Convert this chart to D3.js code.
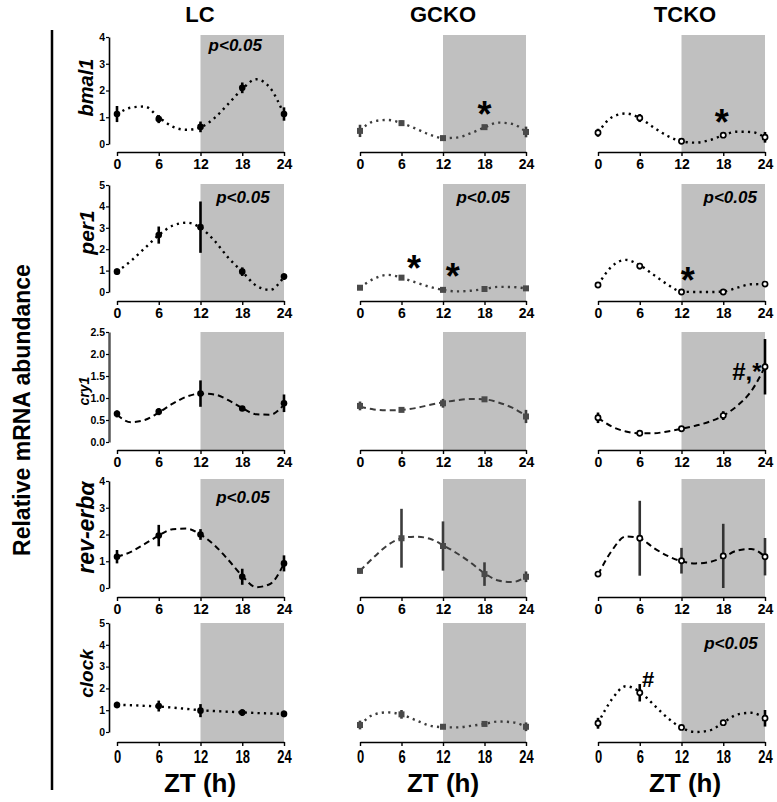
<!DOCTYPE html>
<html><head><meta charset="utf-8">
<script src="https://cdn.jsdelivr.net/npm/d3@7"></script>
<style>
body{margin:0;background:#fff}
svg{display:block}
text{font-family:"Liberation Sans",Arial,Helvetica,sans-serif}
</style>
</head><body>
<svg id="chart" width="777" height="802"></svg>
<script>
// ---------- data ----------
const groups = ["LC", "GCKO", "TCKO"];
const genes = ["bmal1", "per1", "cry1", "rev-erbα", "clock"];
const sampleZT = [0, 6, 12, 18, 24];
const xTickValues = [0, 6, 12, 18, 24];
const fitZT = [0, 2, 4, 6, 8, 10, 12, 14, 16, 18, 20, 22, 24];
const yMaxes = [4, 5, 2.5, 4, 5];
const yTickSteps = [1, 1, 0.5, 1, 1];
const lineKinds = ["dotted", "dotted", "dashed", "dashed", "dotted"];
const darkPhase = [12, 24];

const meanLC = [
  [1.12, 0.93, 0.64, 2.10, 1.12],
  [0.95, 2.66, 3.03, 0.95, 0.72],
  [0.64, 0.69, 1.10, 0.76, 0.88],
  [1.17, 1.96, 2.00, 0.42, 0.92],
  [1.24, 1.19, 0.98, 0.89, 0.83]
];
const errLC = [
  [0.30, 0.15, 0.20, 0.20, 0.25],
  [0.15, 0.40, 1.20, 0.20, 0.15],
  [0.08, 0.08, 0.30, 0.04, 0.20],
  [0.25, 0.40, 0.20, 0.30, 0.30],
  [0.15, 0.25, 0.30, 0.15, 0.15]
];
const meanGCKO = [
  [0.49, 0.78, 0.22, 0.63, 0.45],
  [0.20, 0.67, 0.10, 0.14, 0.17],
  [0.82, 0.73, 0.88, 0.97, 0.58],
  [0.64, 1.86, 1.57, 0.52, 0.42],
  [0.32, 0.81, 0.24, 0.37, 0.24]
];
const errGCKO = [
  [0.23, 0.10, 0.04, 0.04, 0.20],
  [0.03, 0.05, 0.03, 0.03, 0.03],
  [0.10, 0.03, 0.10, 0.05, 0.15],
  [0.10, 1.10, 0.92, 0.44, 0.20],
  [0.20, 0.20, 0.05, 0.05, 0.20]
];
const meanTCKO = [
  [0.42, 0.97, 0.10, 0.33, 0.25],
  [0.33, 1.21, 0.00, 0.00, 0.37],
  [0.55, 0.20, 0.30, 0.60, 1.71],
  [0.52, 1.86, 1.02, 1.20, 1.17],
  [0.40, 1.80, 0.21, 0.43, 0.63]
];
const errTCKO = [
  [0.15, 0.15, 0.03, 0.10, 0.20],
  [0.08, 0.15, 0.03, 0.03, 0.05],
  [0.12, 0.05, 0.03, 0.10, 0.63],
  [0.10, 1.40, 0.48, 1.20, 0.70],
  [0.25, 0.40, 0.05, 0.05, 0.38]
];

// fitted curves, read at fitZT
const fitLC = [
  [1.10, 1.36, 1.40, 1.00, 0.65, 0.53, 0.62, 0.97, 1.50, 2.05, 2.42, 2.10, 1.10],
  [0.95, 1.45, 2.05, 2.66, 3.10, 3.24, 3.00, 2.40, 1.60, 0.95, 0.30, 0.10, 0.72],
  [0.62, 0.45, 0.50, 0.67, 0.87, 1.03, 1.10, 1.08, 0.95, 0.77, 0.63, 0.62, 0.85],
  [1.17, 1.35, 1.65, 1.96, 2.20, 2.22, 2.00, 1.60, 1.05, 0.45, 0.03, 0.15, 0.92],
  [1.25, 1.23, 1.20, 1.17, 1.12, 1.06, 1.00, 0.96, 0.93, 0.90, 0.87, 0.85, 0.83]
];
const fitGCKO = [
  [0.50, 0.85, 0.90, 0.78, 0.58, 0.36, 0.22, 0.24, 0.40, 0.62, 0.80, 0.75, 0.45],
  [0.20, 0.62, 0.80, 0.67, 0.45, 0.25, 0.10, 0.03, 0.06, 0.14, 0.24, 0.23, 0.17],
  [0.80, 0.74, 0.72, 0.73, 0.77, 0.84, 0.90, 0.95, 0.98, 0.97, 0.90, 0.78, 0.60],
  [0.64, 1.15, 1.60, 1.86, 1.92, 1.85, 1.60, 1.30, 0.95, 0.55, 0.28, 0.22, 0.42],
  [0.32, 0.80, 0.90, 0.80, 0.55, 0.30, 0.22, 0.21, 0.28, 0.37, 0.48, 0.45, 0.24]
];
const fitTCKO = [
  [0.42, 1.00, 1.14, 0.97, 0.62, 0.30, 0.10, 0.05, 0.14, 0.33, 0.46, 0.45, 0.25],
  [0.33, 1.20, 1.50, 1.25, 0.80, 0.35, 0.02, 0.00, 0.00, 0.02, 0.20, 0.36, 0.37],
  [0.55, 0.35, 0.24, 0.20, 0.20, 0.24, 0.30, 0.37, 0.46, 0.60, 0.82, 1.15, 1.71],
  [0.50, 1.40, 1.93, 1.86, 1.50, 1.20, 1.00, 0.92, 0.97, 1.15, 1.40, 1.46, 1.17],
  [0.40, 1.50, 2.10, 1.85, 1.25, 0.65, 0.20, 0.00, 0.07, 0.43, 0.80, 0.88, 0.63]
];

// significance notes: [row, col, zt, value, text]
const pNotes = [
  [0, 0, 17.0, 3.70, "p<0.05"],
  [1, 0, 18.1, 4.44, "p<0.05"],
  [1, 1, 17.8, 4.44, "p<0.05"],
  [1, 2, 19.0, 4.44, "p<0.05"],
  [3, 0, 18.1, 3.40, "p<0.05"],
  [4, 2, 19.1, 4.08, "p<0.05"]
];
const markNotes = [
  [0, 1, 18.0, 1.23, "*", "middle"],
  [0, 2, 17.8, 0.93, "*", "middle"],
  [1, 1, 7.8, 1.26, "*", "middle"],
  [1, 1, 13.4, 0.89, "*", "middle"],
  [1, 2, 12.9, 0.70, "*", "middle"],
  [2, 2, 23.5, 1.61, "#,*", "end"],
  [4, 2, 7.2, 2.43, "#", "middle"]
];

// ---------- layout ----------
const svg = d3.select("#chart");
const colX = [[117, 284], [360, 526], [598, 765]];
const colYAxisX = 109;
const rowLayout = [ // [yTopPx, yZeroPx, xAxisPx, grayTopPx]
  [37, 144, 152, 35],
  [185, 292, 301, 184],
  [332, 442, 450, 332],
  [481, 588, 597, 479],
  [623, 732, 742, 623]
];
const groupColor = ["#000", "#3c3c3c", "#000"];
const grayFill = "#c0c0c0";

const titleX = [200, 443, 685];
groups.forEach((g, i) => {
  svg.append("text").attr("x", titleX[i]).attr("y", 22).attr("text-anchor", "middle")
    .style("font-weight", "bold").style("font-size", "22px").text(g);
  svg.append("text").attr("x", titleX[i]).attr("y", 792).attr("text-anchor", "middle")
    .style("font-weight", "bold").style("font-size", "26px").text("ZT (h)");
});

svg.append("line").attr("x1", 52).attr("x2", 52).attr("y1", 30).attr("y2", 790)
  .attr("stroke", "#000").attr("stroke-width", 2.5);
svg.append("text").attr("transform", "translate(30,410) rotate(-90)")
  .attr("text-anchor", "middle").style("font-weight", "bold").style("font-size", "23px")
  .text("Relative mRNA abundance");

const geneLabelSize = [20, 21, 14, 23, 19];
const geneLabelX = [93, 94, 89, 94, 93];
const geneLabelShift = [-3, -6, 4, -7, -4];

const means = [meanLC, meanGCKO, meanTCKO];
const errs = [errLC, errGCKO, errTCKO];
const fits = [fitLC, fitGCKO, fitTCKO];

genes.forEach((gene, r) => {
  const [yTop, yZero, axisY, grayTop] = rowLayout[r];
  const y = d3.scaleLinear().domain([0, yMaxes[r]]).range([yZero, yTop]);
  const yTicks = d3.range(0, yMaxes[r] + 1e-9, yTickSteps[r]);

  // gene label
  svg.append("text")
    .attr("transform", `translate(${geneLabelX[r]},${(yTop + yZero) / 2 + geneLabelShift[r]}) rotate(-90)`)
    .attr("text-anchor", "middle")
    .style("font-weight", "bold").style("font-style", "italic")
    .style("font-size", geneLabelSize[r] + "px").text(gene);

  groups.forEach((g, c) => {
    const x = d3.scaleLinear().domain([0, 24]).range(colX[c]);
    const panel = svg.append("g");
    const col = groupColor[c];

    // dark phase
    panel.append("rect").attr("x", x(darkPhase[0])).attr("width", x(darkPhase[1]) - x(darkPhase[0]))
      .attr("y", grayTop).attr("height", axisY - grayTop).attr("fill", grayFill);

    // x axis
    const xa = panel.append("g").attr("transform", `translate(0,${axisY})`)
      .call(d3.axisBottom(x).tickValues(xTickValues).tickSize(4).tickSizeOuter(0).tickPadding(r === 4 ? 4 : 3));
    xa.select(".domain").attr("stroke", "#000").attr("stroke-width", 1.6);
    xa.selectAll(".tick line").attr("stroke", "#000").attr("stroke-width", 1.4);
    const tt = xa.selectAll(".tick text").attr("fill", "#000")
      .style("font-weight", "bold").style("font-size", r === 4 ? "18px" : "14px");
    if (r === 4) tt.attr("transform", "scale(0.72,1)");

    // y axis (LC only)
    if (c === 0) {
      const ya = panel.append("g").attr("transform", `translate(${colYAxisX},0)`)
        .call(d3.axisLeft(y).tickValues(yTicks).tickSize(3).tickSizeOuter(0).tickPadding(1)
          .tickFormat(yTickSteps[r] < 1 ? d3.format(".1f") : d3.format("d")));
      ya.select(".domain").attr("stroke", r === 2 ? "#555" : "#000").attr("stroke-width", r === 2 ? 2.5 : 1.6);
      ya.selectAll(".tick line").attr("stroke", "#000").attr("stroke-width", 1.2);
      ya.selectAll(".tick text").attr("fill", "#000").style("font-weight", "bold").style("font-size", "10.5px");
    }

    // fitted curve
    const line = d3.line().x(d => x(d[0])).y(d => y(d[1])).curve(d3.curveMonotoneX);
    panel.append("path").datum(fitZT.map((t, i) => [t, fits[c][r][i]]))
      .attr("d", line).attr("fill", "none").attr("stroke", col)
      .attr("stroke-width", lineKinds[r] === "dotted" ? 2.4 : 2)
      .attr("stroke-dasharray", lineKinds[r] === "dotted" ? "2.2,4.2" : "6,4");

    const pts = sampleZT.map((t, i) => ({t, m: means[c][r][i], e: errs[c][r][i]}));
    // error bars
    panel.selectAll(".eb").data(pts).enter().append("line")
      .attr("x1", d => x(d.t)).attr("x2", d => x(d.t))
      .attr("y1", d => y(d.m + d.e)).attr("y2", d => y(Math.max(0, d.m - d.e)))
      .attr("stroke", c === 1 ? "#3c3c3c" : (r === 3 && c === 2 ? "#333" : "#000")).attr("stroke-width", 2.6);

    // markers
    if (c === 0) {
      panel.selectAll(".mk").data(pts).enter().append("circle")
        .attr("cx", d => x(d.t)).attr("cy", d => y(d.m)).attr("r", 3.3).attr("fill", "#000");
    } else if (c === 1) {
      panel.selectAll(".mk").data(pts).enter().append("rect")
        .attr("x", d => x(d.t) - 3).attr("y", d => y(d.m) - 3).attr("width", 6).attr("height", 6)
        .attr("fill", "#4a4a4a");
    } else {
      panel.selectAll(".mk").data(pts).enter().append("circle")
        .attr("cx", d => x(d.t)).attr("cy", d => y(d.m)).attr("r", 2.6).attr("fill", "#fff")
        .attr("stroke", "#000").attr("stroke-width", 1.7);
    }

    // p notes
    pNotes.filter(n => n[0] === r && n[1] === c).forEach(n => {
      panel.append("text").attr("x", x(n[2])).attr("y", y(n[3])).attr("dy", "0.35em")
        .attr("text-anchor", "middle").style("font-weight", "bold").style("font-style", "italic")
        .style("font-size", "17px").text(n[4]);
    });
    markNotes.filter(n => n[0] === r && n[1] === c).forEach(n => {
      const isStar = n[4] === "*";
      panel.append("text").attr("x", x(n[2])).attr("y", y(n[3]))
        .attr("dy", isStar ? "0.45em" : "0.36em")
        .attr("text-anchor", n[5]).style("font-weight", "bold")
        .style("font-size", isStar ? "36px" : (n[4] === "#" ? "22px" : "24px")).text(n[4]);
    });
  });
});
</script>
</body></html>
